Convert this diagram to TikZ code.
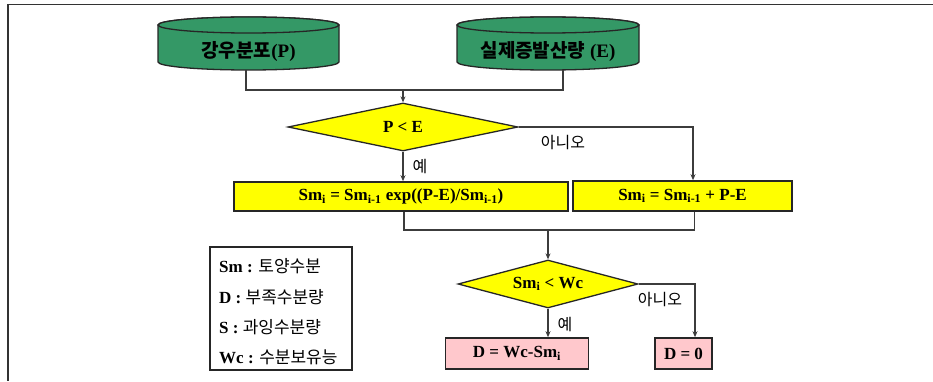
\documentclass[tikz,border=0pt]{standalone}
\usepackage{fontspec}
\setmainfont{Liberation Serif}
\newfontfamily\kr{Noto Sans CJK KR}
\usetikzlibrary{shapes.geometric,arrows.meta}
\definecolor{cylgreen}{RGB}{52,152,102}
\definecolor{boxyellow}{RGB}{255,255,0}
\definecolor{boxpink}{RGB}{255,200,204}
\definecolor{linegray}{RGB}{60,60,60}
\tikzset{
  conn/.style={draw=linegray, line width=1.3pt},
  arr/.style={conn, -{Stealth[length=6pt,width=5pt]}},
  cylbody/.style={draw=black!85, line width=1.3pt, fill=cylgreen},
  cyltext/.style={inner sep=0pt, minimum width=181pt, minimum height=36pt, font=\fontsize{19}{21}\selectfont},
  decision/.style={diamond, draw=black!85, line width=1.3pt, fill=boxyellow, inner sep=0pt, font=\fontsize{17}{19}\selectfont\bfseries},
  procbox/.style={rectangle, draw=black!85, line width=1.6pt, fill=boxyellow, inner sep=0pt, font=\fontsize{17}{19}\selectfont\bfseries},
  resbox/.style={rectangle, draw=black!85, line width=1.6pt, fill=boxpink, inner sep=0pt, font=\fontsize{17}{19}\selectfont\bfseries},
  legbox/.style={rectangle, draw=black!85, line width=1.6pt, inner sep=0pt},
  legrow/.style={anchor=west, inner sep=0pt, font=\fontsize{17}{19}\selectfont},
  branch/.style={inner sep=0pt, font=\kr\fontsize{16}{18}\selectfont},
}
\begin{document}
\begin{tikzpicture}[x=1pt,y=1pt]
\useasboundingbox (0,0) rectangle (933,381);
% frame lines
\draw[draw=black!80, line width=1.5pt] (933,376.5) -- (8,376.5) -- (8,0);
% cylinders
\path[cylbody] (158,356) -- (158,319) arc[start angle=180, end angle=360, x radius=90.5, y radius=8] -- (339,356) arc[start angle=0, end angle=180, x radius=90.5, y radius=8] -- cycle;
\path[cylbody] (248.5,356) ellipse[x radius=90.5, y radius=8];
\path[cylbody] (457,356) -- (457,319) arc[start angle=180, end angle=360, x radius=91, y radius=8] -- (639,356) arc[start angle=0, end angle=180, x radius=91, y radius=8] -- cycle;
\path[cylbody] (548,356) ellipse[x radius=91, y radius=8];
\node[cyltext] (c1) at (248.5,329) {{\kr\bfseries 강우분포}\textbf{(P)}};
\node[cyltext] (c2) at (548,329) {{\kr\bfseries 실제증발산량} \textbf{(E)}};
% decision 1
\coordinate (j1) at (403,291);
\node[decision, aspect=4.8, minimum width=230pt, minimum height=48pt] (d1) at (403,254) {P < E};
\node[procbox, minimum width=334pt, minimum height=29pt] (b1) at (401,184.5) {Sm\textsubscript{i} = Sm\textsubscript{i-1} exp((P-E)/Sm\textsubscript{i-1})};
\node[procbox, minimum width=219pt, minimum height=30pt] (b2) at (682.5,185) {Sm\textsubscript{i} = Sm\textsubscript{i-1} + P-E};
\draw[conn] ([xshift=-2.5pt]c1.south) |- (j1) -| ([xshift=15pt]c2.south);
\draw[arr] (j1) -- (d1.north);
\draw[arr] (d1.south) -- (d1.south |- b1.north);
\draw[arr] (d1.east) -| ([xshift=10.5pt]b2.north);
\node[branch] (yes1) at (420,214) {예};
\node[branch] (no1) at (563,238) {아니오};
% decision 2
\coordinate (j2) at (548,151);
\draw[conn] ([xshift=3pt]b1.south) |- (j2) -| ([xshift=12pt]b2.south);
\node[decision, aspect=3.75, minimum width=180pt, minimum height=48pt] (d2) at (548,97) {Sm\textsubscript{i} < Wc};
\draw[arr] (j2) -- (d2.north);
\node[resbox, minimum width=143pt, minimum height=31pt] (p1) at (517,27.5) {D = Wc-Sm\textsubscript{i}};
\node[resbox, minimum width=57pt, minimum height=31pt] (p2) at (683.5,27.5) {D = 0};
\draw[arr] (d2.south) -- (d2.south |- p1.north);
\draw[arr] (d2.east) -| ([xshift=11.5pt]p2.north);
\node[branch] (yes2) at (565,56) {예};
\node[branch] (no2) at (660,81) {아니오};
% legend
\node[legbox, minimum width=142pt, minimum height=123pt] (leg) at (281,72.5) {};
\node[legrow] (l1) at (219,115) {\textbf{Sm :} {\kr 토양수분}};
\node[legrow] (l2) at (219,84) {\textbf{D :} {\kr 부족수분량}};
\node[legrow] (l3) at (219,54) {\textbf{S :} {\kr 과잉수분량}};
\node[legrow] (l4) at (219,24) {\textbf{Wc :} {\kr 수분보유능}};
\end{tikzpicture}
\end{document}
